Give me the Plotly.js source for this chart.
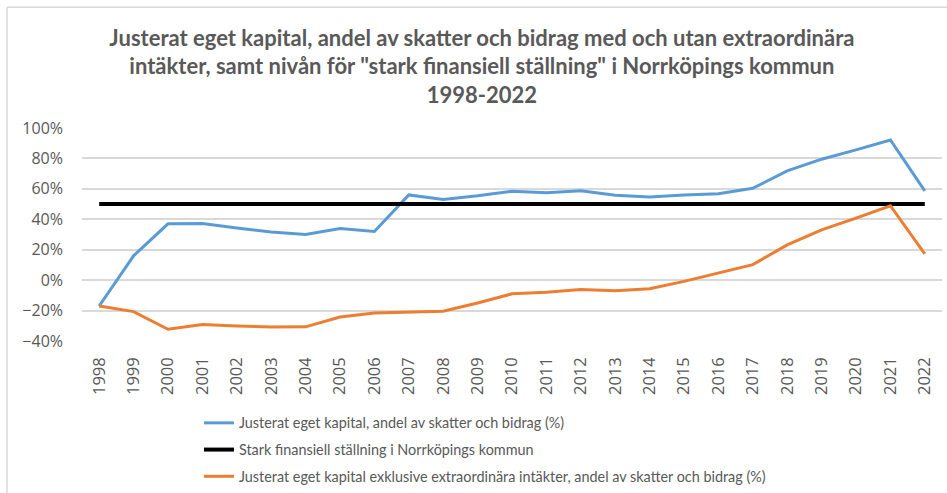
<!DOCTYPE html>
<html>
<head>
<meta charset="utf-8">
<script src="https://cdn.plot.ly/plotly-3.0.1.min.js"></script>
<style>html,body{margin:0;padding:0;background:#fff;}#chart{width:947px;height:493px;}</style>
</head>
<body>
<div id="chart"></div>
<script>
const years = ["1998","1999","2000","2001","2002","2003","2004","2005","2006","2007","2008","2009","2010","2011","2012","2013","2014","2015","2016","2017","2018","2019","2020","2021","2022"];
const justerat = [-17,16,37,37.3,34.2,31.6,30,34,32,56,53,55.4,58.5,57.4,58.7,55.8,54.7,56,56.8,60.4,71.8,79.5,85.6,92.1,58.7];
const stark = [50,50,50,50,50,50,50,50,50,50,50,50,50,50,50,50,50,50,50,50,50,50,50,50,50];
const exklusive = [-17,-20.7,-32.3,-29.2,-30.2,-30.8,-30.7,-24.2,-21.6,-21.1,-20.5,-15,-9,-8,-6.2,-7,-5.6,-0.8,4.6,10.2,23.2,33.1,40.8,48.9,17.2];
const names = [
  "Justerat eget kapital, andel av skatter och bidrag (%)",
  "Stark finansiell ställning i Norrköpings kommun",
  "Justerat eget kapital exklusive extraordinära intäkter, andel av skatter och bidrag (%)"
];
const titleText = 'Justerat eget kapital, andel av skatter och bidrag med och utan extraordinära<br>intäkter, samt nivån för "stark finansiell ställning" i Norrköpings kommun<br>1998-2022';

const traces = [
  {x: years, y: justerat, name: names[0], type: 'scatter', mode: 'lines', legendgroup: 'a',
   line: {color: '#5b9bd5', width: 3}},
  {x: years, y: stark, name: names[1], type: 'scatter', mode: 'lines', legendgroup: 'b',
   line: {color: '#000000', width: 4}},
  {x: years, y: exklusive, name: names[2], type: 'scatter', mode: 'lines', legendgroup: 'c',
   line: {color: '#ed7d31', width: 3}}
];

const layout = {
  width: 947, height: 493,
  margin: {l: 82, r: 5, t: 128, b: 151.5, autoexpand: false},
  paper_bgcolor: '#ffffff', plot_bgcolor: '#ffffff',
  font: {family: 'Lato, "Open Sans", sans-serif', color: '#595959'},
  title: {text: titleText, font: {family: 'Lato, sans-serif', size: 22, color: '#595959', weight: 'bold'},
          xref: 'paper', x: 0.465, xanchor: 'center', yref: 'container', y: 1 - 45.5/493, yanchor: 'middle'},
  showlegend: true,
  legend: {orientation: 'v', x: 0.136, xanchor: 'left', yref: 'container', y: 1 - 407/493, yanchor: 'top',
           font: {family: 'Lato, sans-serif', size: 14.4, color: '#595959'},
           tracegroupgap: 5, traceorder: 'grouped', bgcolor: 'rgba(0,0,0,0)'},
  xaxis: {type: 'category', range: [-0.5, 24.5], tickangle: -90, showgrid: false, showline: false, zeroline: false,
          automargin: false, ticks: '', tickfont: {family: '"Open Sans", sans-serif', size: 16.5, color: '#595959'},
          ticklabelstandoff: 12},
  yaxis: {range: [-40, 100], dtick: 20, tick0: 0, ticksuffix: '%', showgrid: true, gridcolor: '#d9d9d9',
          gridwidth: 1.5, zeroline: false, showline: false, ticks: '', automargin: false,
          tickfont: {family: '"Open Sans", sans-serif', size: 16, color: '#595959'},
          ticklabelstandoff: 18},
  shapes: [
    {type: 'line', xref: 'paper', yref: 'paper', x0: (7-82)/860, x1: (960-82)/860,
     y0: (341.5-7)/213.5, y1: (341.5-7)/213.5, line: {color: '#d9d9d9', width: 1.5}},
    {type: 'line', xref: 'paper', yref: 'paper', x0: (7-82)/860, x1: (7-82)/860,
     y0: (341.5-7)/213.5, y1: (341.5-510)/213.5, line: {color: '#d9d9d9', width: 1.5}}
  ]
};

Plotly.newPlot('chart', traces, layout, {displayModeBar: false, responsive: false});
</script>
</body>
</html>
